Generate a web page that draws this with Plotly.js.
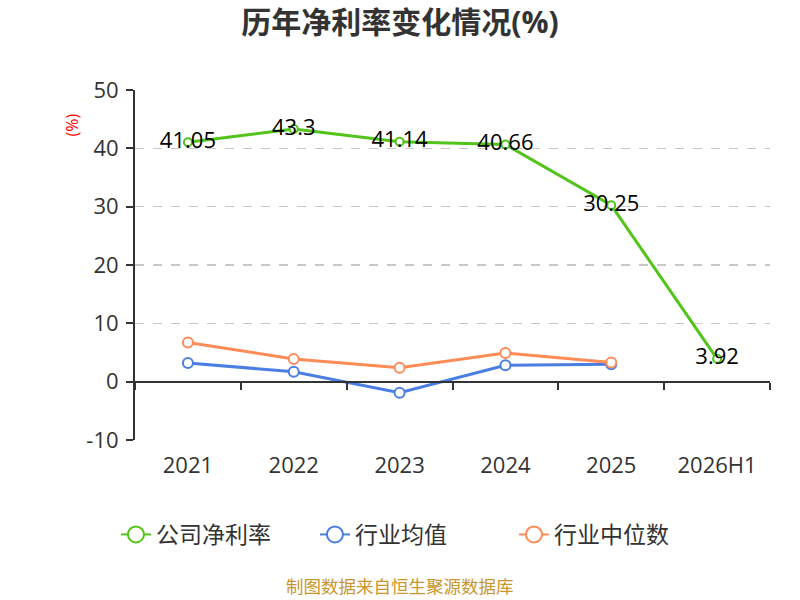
<!DOCTYPE html>
<html>
<head>
<meta charset="utf-8">
<script src="https://cdn.plot.ly/plotly-3.0.1.min.js"></script>
<style>
  html, body { margin: 0; padding: 0; background: #fff; }
  #chart { width: 800px; height: 600px; }
</style>
</head>
<body>
<div id="chart"></div>
<script>
const years = ["2021", "2022", "2023", "2024", "2025", "2026H1"];
const companyRate = [41.05, 43.3, 41.14, 40.66, 30.25, 3.92];
const industryAvg = [3.2, 1.7, -1.9, 2.8, 3.0, null];
const industryMedian = [6.7, 3.9, 2.4, 4.9, 3.3, null];
const yTicks = [-10, 0, 10, 20, 30, 40, 50];

const FONT = "Open Sans, Noto Sans CJK SC, sans-serif";
const GREEN = "#52c41a", BLUE = "#4a7ee3", ORANGE = "#ff8c57";

// legend-only entries so the legend circles can be bigger than the plot markers
function legendEntry(name, color) {
  return {
    name: name, x: [null], y: [null],
    type: "scatter", mode: "lines+markers",
    line: { color: color, width: 2 },
    marker: { symbol: "circle", size: 16, color: "#fff", line: { color: color, width: 2 } },
    hoverinfo: "skip"
  };
}

const traces = [
  {
    name: "公司净利率", showlegend: false,
    x: years, y: companyRate,
    type: "scatter", mode: "lines+markers+text",
    text: companyRate.map(String),
    textposition: "middle center",
    textfont: { size: 22, color: "#000", family: FONT },
    line: { color: GREEN, width: 3 },
    marker: { symbol: "circle", size: 8, color: "#fff", line: { color: GREEN, width: 2 } },
    cliponaxis: false
  },
  {
    name: "行业均值", showlegend: false,
    x: years, y: industryAvg,
    type: "scatter", mode: "lines+markers",
    line: { color: BLUE, width: 3 },
    marker: { symbol: "circle", size: 10, color: "#fff", line: { color: BLUE, width: 2 } }
  },
  {
    name: "行业中位数", showlegend: false,
    x: years, y: industryMedian,
    xaxis: "x2",
    type: "scatter", mode: "lines+markers",
    line: { color: ORANGE, width: 3 },
    marker: { symbol: "circle", size: 10, color: "#fff", line: { color: ORANGE, width: 2 } }
  },
  legendEntry("公司净利率", GREEN),
  legendEntry("行业均值", BLUE),
  legendEntry("行业中位数", ORANGE)
];

const layout = {
  width: 800, height: 600,
  margin: { l: 135, r: 30, t: 90, b: 160 },
  paper_bgcolor: "#fff", plot_bgcolor: "#fff",
  font: { family: FONT, color: "#333" },
  title: {
    text: "<b>历年净利率变化情况(%)</b>",
    font: { size: 30, color: "#333", family: FONT },
    x: 0.5, xanchor: "center", y: 0.963, yanchor: "middle"
  },
  xaxis: {
    type: "category",
    range: [-0.5, 5.5],
    showline: false, showgrid: false, zeroline: false,
    ticks: "", tickfont: { size: 22, color: "#333" },
    ticklabelstandoff: 10
  },
  xaxis2: {
    type: "category",
    overlaying: "x", matches: "x",
    anchor: "free", position: 10 / 60,
    showline: true, linecolor: "#333", linewidth: 2,
    ticks: "outside", ticklen: 7, tickwidth: 2, tickcolor: "#333",
    tickson: "boundaries",
    showticklabels: false, showgrid: false, zeroline: false
  },
  yaxis: {
    range: [-10, 50],
    tickvals: yTicks,
    ticktext: yTicks.map(String),
    showline: true, linecolor: "#333", linewidth: 2,
    ticks: "outside", ticklen: 7, tickwidth: 2, tickcolor: "#333",
    tickfont: { size: 22, color: "#333" },
    ticklabelstandoff: 3,
    showgrid: true, gridcolor: "#c8c8c8", griddash: "dash", gridwidth: 1.5,
    zeroline: false
  },
  legend: {
    orientation: "h",
    x: -0.03, xanchor: "left",
    y: -0.27, yanchor: "middle",
    font: { size: 23, color: "#333" },
    entrywidth: 154, entrywidthmode: "pixels"
  },
  annotations: [
    {
      text: "(%)", textangle: -90,
      xref: "paper", yref: "paper",
      x: -0.1, y: 0.9, xanchor: "center", yanchor: "middle",
      showarrow: false,
      font: { size: 16, color: "#f00" }
    },
    {
      text: "制图数据来自恒生聚源数据库",
      xref: "paper", yref: "paper",
      x: (400 - 135) / 635, y: -0.418, xanchor: "center", yanchor: "middle",
      showarrow: false,
      font: { size: 17.5, color: "#c9962b" }
    }
  ],
  showlegend: true
};

Plotly.newPlot("chart", traces, layout, { displayModeBar: false, staticPlot: true });
</script>
</body>
</html>
